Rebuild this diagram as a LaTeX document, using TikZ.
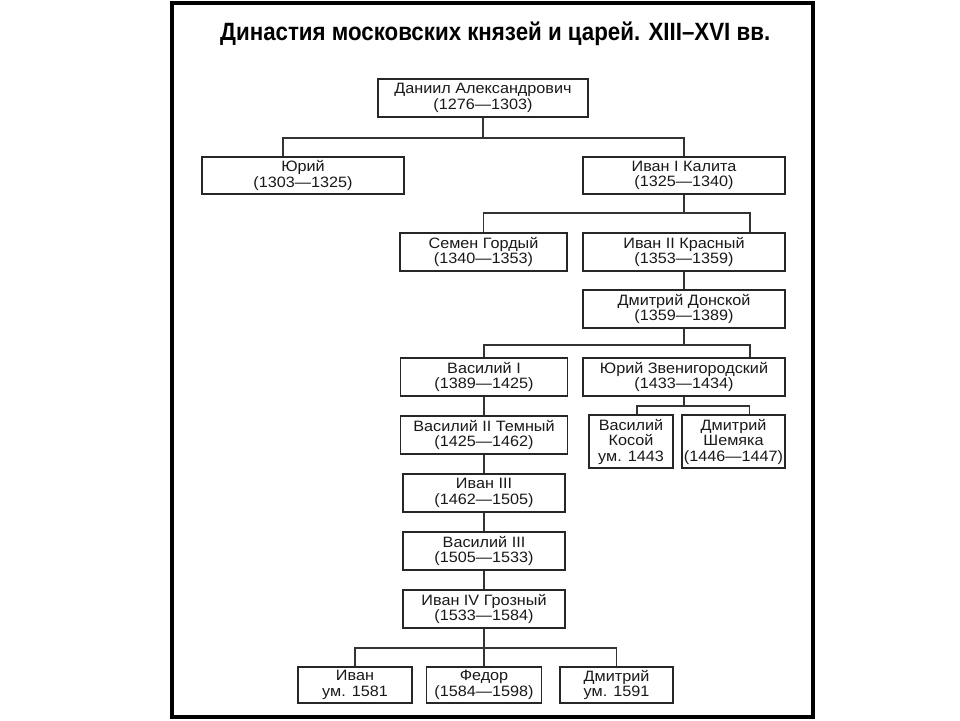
\documentclass[tikz,border=0pt]{standalone}
\usepackage{fontspec}
\usepackage{graphicx}
\setmainfont{Liberation Sans}
\newfontfamily\boxfont{Liberation Sans}[FakeStretch=1.08]
\begin{document}
\begin{tikzpicture}[x=1pt,y=-1pt,
  box/.style={draw=black!85, line width=1.2pt, inner sep=0pt, align=center,
    font=\boxfont\fontsize{15}{15.5}\selectfont, text=black!90},
  link/.style={draw=black!80, line width=1.2pt}]
\fill[white] (0,0) rectangle (960,720);
\useasboundingbox (0,0) rectangle (960,720);
\draw[line width=4pt] (172,3) rectangle (813,717);
\node[anchor=base west, inner sep=0pt] (title) at (220,40)
  {\resizebox{550pt}{\height}{\fontsize{25}{26}\selectfont\bfseries Династия московских князей и царей. XIII–XVI вв.}};
% boxes
\node[box, minimum width=210pt, minimum height=38pt] (dan) at (483,98) {Даниил Александрович\\(1276—1303)};
\node[box, minimum width=202pt, minimum height=37pt] (yuri) at (303,175.5) {Юрий\\(1303—1325)};
\node[box, minimum width=202pt, minimum height=37pt] (ivan1) at (684,175.5) {Иван I Калита\\(1325—1340)};
\node[box, minimum width=167pt, minimum height=38pt] (semen) at (483.5,252) {Семен Гордый\\(1340—1353)};
\node[box, minimum width=202pt, minimum height=38pt] (ivan2) at (684,252) {Иван II Красный\\(1353—1359)};
\node[box, minimum width=202pt, minimum height=38pt] (dmitri) at (684,309) {Дмитрий Донской\\(1359—1389)};
\node[box, minimum width=167pt, minimum height=38pt] (vas1) at (484,377) {Василий I\\(1389—1425)};
\node[box, minimum width=202pt, minimum height=38pt] (yuriz) at (684,377) {Юрий Звенигородский\\(1433—1434)};
\node[box, minimum width=167pt, minimum height=38pt] (vas2) at (484,435) {Василий II Темный\\(1425—1462)};
\node[box, minimum width=84pt, minimum height=53pt] (kosoy) at (631,441.5) {Василий\\Косой\\ум. 1443};
\node[box, minimum width=103pt, minimum height=53pt] (shem) at (733.5,441.5) {Дмитрий\\Шемяка\\(1446—1447)};
\node[box, minimum width=162pt, minimum height=38pt] (ivan3) at (484,493) {Иван III\\(1462—1505)};
\node[box, minimum width=162pt, minimum height=38pt] (vas3) at (484,551) {Василий III\\(1505—1533)};
\node[box, minimum width=162pt, minimum height=38pt] (ivan4) at (484,609) {Иван IV Грозный\\(1533—1584)};
\node[box, minimum width=114pt, minimum height=36pt] (ivan) at (355,685) {Иван\\ум. 1581};
\node[box, minimum width=115pt, minimum height=36pt] (fedor) at (484,685) {Федор\\(1584—1598)};
\node[box, minimum width=113pt, minimum height=36pt] (dmitry) at (616.5,685) {Дмитрий\\ум. 1591};
% bus points
\coordinate (b1) at (483,138);
\coordinate (b2) at (684,213);
\coordinate (b3) at (684,345);
\coordinate (b4) at (684,406);
\coordinate (b5) at (484,648);
% connectors
\draw[link] (dan.south) -- (b1);
\draw[link] ([xshift=-20pt]yuri.north) |- (b1) -| (ivan1.north);
\draw[link] (ivan1.south) -- (b2);
\draw[link] (semen.north) |- (b2) -| ([xshift=66pt]ivan2.north);
\draw[link] (ivan2.south) -- (dmitri.north);
\draw[link] (dmitri.south) -- (b3);
\draw[link] (vas1.north) |- (b3) -| ([xshift=66pt]yuriz.north);
\draw[link] (yuriz.south) -- (b4);
\draw[link] ([xshift=6pt]kosoy.north) |- (b4) -| ([xshift=16pt]shem.north);
\draw[link] (vas1.south) -- (vas2.north);
\draw[link] (vas2.south) -- (ivan3.north);
\draw[link] (ivan3.south) -- (vas3.north);
\draw[link] (vas3.south) -- (ivan4.north);
\draw[link] (ivan4.south) -- (b5);
\draw[link] (ivan.north) |- (b5) -| (dmitry.north);
\draw[link] (fedor.north) -- (b5);
\end{tikzpicture}
\end{document}
